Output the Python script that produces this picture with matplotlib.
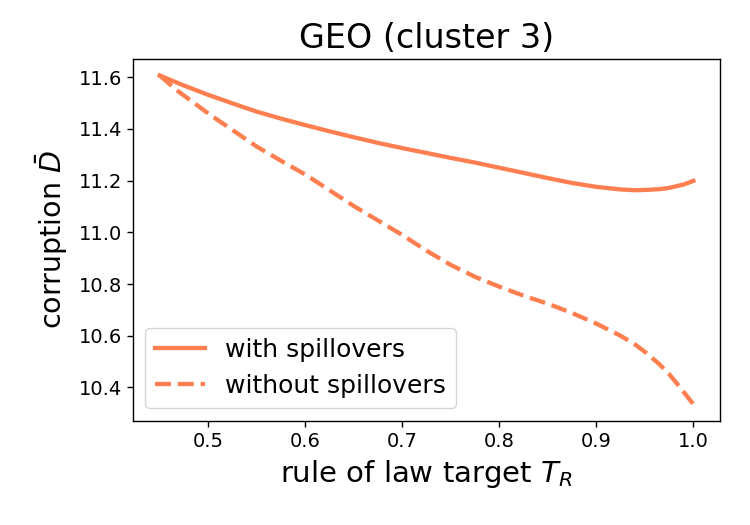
import matplotlib
matplotlib.use("Agg")
import matplotlib.pyplot as plt

x_with = [0.45, 0.475, 0.5, 0.525, 0.55, 0.575, 0.6, 0.625, 0.65, 0.675, 0.7, 0.725, 0.75,
          0.775, 0.8, 0.825, 0.85, 0.875, 0.9, 0.925, 0.94, 0.95, 0.965, 0.975, 0.99, 1.0]
y_with = [11.607, 11.568, 11.532, 11.499, 11.467, 11.44, 11.415, 11.391, 11.368, 11.346, 11.326,
          11.307, 11.288, 11.27, 11.25, 11.23, 11.21, 11.191, 11.176, 11.166, 11.163, 11.164,
          11.167, 11.172, 11.185, 11.199]

x_without = [0.45, 0.4675, 0.49, 0.5, 0.525, 0.55, 0.575, 0.6, 0.625, 0.65, 0.675, 0.7,
             0.725, 0.75, 0.775, 0.8, 0.825, 0.85, 0.875, 0.9, 0.925, 0.94, 0.95, 0.965, 0.975,
             0.986, 1.0]
y_without = [11.607, 11.55, 11.488, 11.46, 11.396, 11.332, 11.277, 11.224, 11.163, 11.102, 11.046,
             10.99, 10.929, 10.874, 10.828, 10.79, 10.755, 10.724, 10.688, 10.647, 10.6,
             10.566, 10.538, 10.49, 10.452, 10.402, 10.335]

color = "#FF7F50"

fig = plt.figure(figsize=(7.5, 5.25), dpi=100)
ax = fig.add_axes([0.1773, 0.1987, 0.96 - 0.1773, 0.8876 - 0.1987])
ax.plot(x_with, y_with, color=color, lw=3.1, label="with spillovers")
ax.plot(x_without, y_without, color=color, lw=3.1, ls="--", label="without spillovers")

ax.set_title("GEO (cluster 3)", fontsize=24, pad=8)
ax.set_xlabel(r"rule of law target $T_R$", fontsize=21, labelpad=5)
ax.set_ylabel(r"corruption $\bar{D}$", fontsize=20.5, labelpad=6)
ax.set_xticks([0.5, 0.6, 0.7, 0.8, 0.9, 1.0])
ax.set_yticks([10.4, 10.6, 10.8, 11.0, 11.2, 11.4, 11.6])
ax.tick_params(labelsize=14, width=1.0, length=4.4)
for s in ax.spines.values():
    s.set_linewidth(1.0)
ax.legend(loc="lower left", fontsize=18)

fig.savefig("out.png", dpi=100)
